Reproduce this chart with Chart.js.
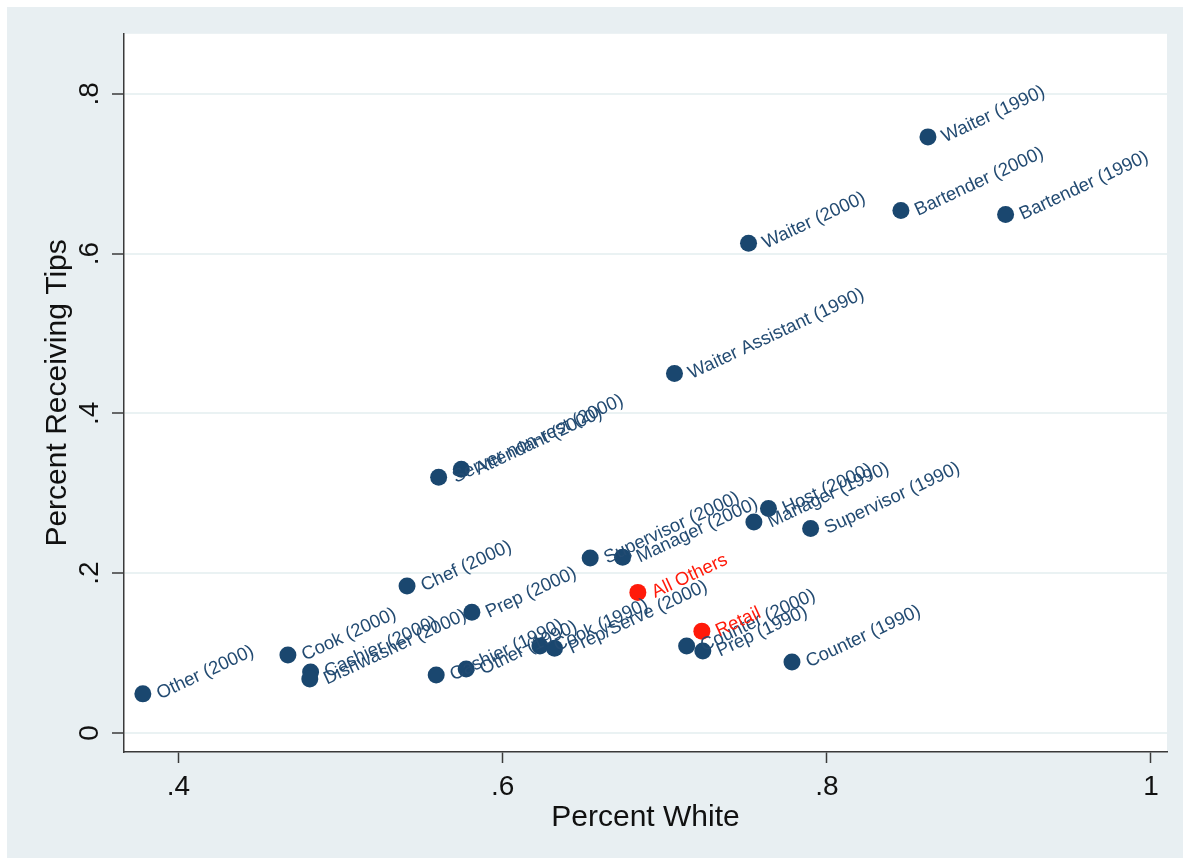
<!DOCTYPE html>
<html>
<head>
<meta charset="utf-8">
<script src="https://cdn.jsdelivr.net/npm/chart.js@4.4.1/dist/chart.umd.min.js"></script>
<style>
  html, body { margin: 0; padding: 0; background: #ffffff; }
  #wrap { position: absolute; left: 7px; top: 7px; width: 1176px; height: 851px; background: #e8eff2; }
  canvas { display: block; }
</style>
</head>
<body>
<div id="wrap"><canvas id="chart" width="1176" height="851"></canvas></div>
<script>
// Restaurant occupations: share white vs. share receiving tips
const occupations = [
  'Other (2000)', 'Cook (2000)', 'Cashier (2000)', 'Dishwasher (2000)', 'Chef (2000)',
  'Prep (2000)', 'Server non-rest (2000)', 'Attendant (2000)', 'Cashier (1990)', 'Other (1990)',
  'Cook (1990)', 'Prep/Serve (2000)', 'Supervisor (2000)', 'Manager (2000)', 'Waiter Assistant (1990)',
  'Counter (2000)', 'Prep (1990)', 'Waiter (2000)', 'Manager (1990)', 'Host (2000)',
  'Counter (1990)', 'Supervisor (1990)', 'Bartender (2000)', 'Waiter (1990)', 'Bartender (1990)'
];
const occPctWhite = [
  0.378, 0.4675, 0.4815, 0.481, 0.541,
  0.581, 0.5605, 0.5745, 0.559, 0.5775,
  0.623, 0.632, 0.654, 0.674, 0.706,
  0.7135, 0.7235, 0.7517, 0.755, 0.764,
  0.7785, 0.790, 0.8457, 0.8624, 0.9103
];
const occPctTips = [
  0.049, 0.0975, 0.0765, 0.0675, 0.184,
  0.151, 0.320, 0.330, 0.0725, 0.080,
  0.109, 0.106, 0.219, 0.220, 0.450,
  0.109, 0.1025, 0.613, 0.264, 0.281,
  0.089, 0.256, 0.654, 0.746, 0.649
];

// Comparison groups
const groups = ['All Others', 'Retail'];
const groupPctWhite = [0.6834, 0.7229];
const groupPctTips = [0.176, 0.1275];

// Axis ticks
const xTicks = [0.4, 0.6, 0.8, 1];
const xTickLabels = ['.4', '.6', '.8', '1'];
const yTicks = [0, 0.2, 0.4, 0.6, 0.8];
const yTickLabels = ['0', '.2', '.4', '.6', '.8'];

const NAVY = '#1a476f';
const LABEL_NAVY = '#234b72';
const RED = '#ff1a0a';
const AXIS = '#3a3a3a';
const GRID = '#eaf2f3';

const toPoints = (xs, ys) => xs.map((x, i) => ({ x: x, y: ys[i] }));

// white plot region
const plotBackground = {
  id: 'plotBackground',
  beforeDraw(chart) {
    const { ctx, chartArea: a } = chart;
    ctx.save();
    ctx.fillStyle = '#ffffff';
    ctx.fillRect(a.left, a.top, a.right - a.left, a.bottom - a.top);
    ctx.restore();
  }
};

// slanted marker labels at 3 o'clock
const markerLabels = {
  id: 'markerLabels',
  afterDatasetsDraw(chart) {
    const { ctx } = chart;
    ctx.save();
    ctx.font = '18.5px "Liberation Sans", Arial, sans-serif';
    ctx.textAlign = 'left';
    ctx.textBaseline = 'middle';
    chart.data.datasets.forEach((ds, di) => {
      const meta = chart.getDatasetMeta(di);
      meta.data.forEach((pt, i) => {
        ctx.save();
        ctx.translate(pt.x + 15, pt.y + 1);
        ctx.rotate(-25 * Math.PI / 180);
        ctx.fillStyle = ds.labelColor;
        ctx.fillText(ds.names[i], 0, 0);
        ctx.restore();
      });
    });
    ctx.restore();
  }
};

new Chart(document.getElementById('chart'), {
  type: 'scatter',
  data: {
    datasets: [
      {
        data: toPoints(occPctWhite, occPctTips),
        names: occupations,
        labelColor: LABEL_NAVY,
        backgroundColor: NAVY,
        borderColor: NAVY,
        pointRadius: 8.5,
        pointBorderWidth: 0
      },
      {
        data: toPoints(groupPctWhite, groupPctTips),
        names: groups,
        labelColor: RED,
        backgroundColor: RED,
        borderColor: RED,
        pointRadius: 8.5,
        pointBorderWidth: 0
      }
    ]
  },
  options: {
    responsive: false,
    animation: false,
    layout: { padding: { top: 26, right: 16, left: 0, bottom: 0 } },
    plugins: { legend: { display: false }, tooltip: { enabled: false } },
    scales: {
      x: {
        type: 'linear',
        min: 0.36637,
        max: 1.00988,
        afterBuildTicks(scale) { scale.ticks = xTicks.map(v => ({ value: v })); },
        afterFit(scale) { scale.height = 106; },
        border: { display: true, color: AXIS, width: 1.5 },
        grid: { drawOnChartArea: false, drawTicks: true, tickLength: 11, tickColor: AXIS, tickWidth: 1.5 },
        ticks: {
          color: '#111111',
          font: { family: '"Liberation Sans", Arial, sans-serif', size: 28 },
          padding: 7,
          maxRotation: 0,
          callback: (v) => xTickLabels[xTicks.indexOf(v)]
        },
        title: {
          display: true,
          text: 'Percent White',
          color: '#111111',
          font: { family: '"Liberation Sans", Arial, sans-serif', size: 30 },
          padding: { top: 0, bottom: 22 }
        }
      },
      y: {
        type: 'linear',
        min: -0.02375,
        max: 0.875,
        afterBuildTicks(scale) { scale.ticks = yTicks.map(v => ({ value: v })); },
        afterFit(scale) { scale.width = 117; },
        border: { display: true, color: AXIS, width: 1.5 },
        grid: { color: GRID, lineWidth: 2, drawTicks: true, tickLength: 12, tickColor: AXIS, tickWidth: 1.5 },
        ticks: {
          color: '#111111',
          font: { family: '"Liberation Sans", Arial, sans-serif', size: 28 },
          padding: 10,
          minRotation: 90,
          maxRotation: 90,
          crossAlign: 'center',
          callback: (v) => yTickLabels[yTicks.indexOf(v)]
        },
        title: {
          display: true,
          text: 'Percent Receiving Tips',
          color: '#111111',
          font: { family: '"Liberation Sans", Arial, sans-serif', size: 30 },
          padding: { top: 33, bottom: 0 }
        }
      }
    }
  },
  plugins: [plotBackground, markerLabels]
});
</script>
</body>
</html>
